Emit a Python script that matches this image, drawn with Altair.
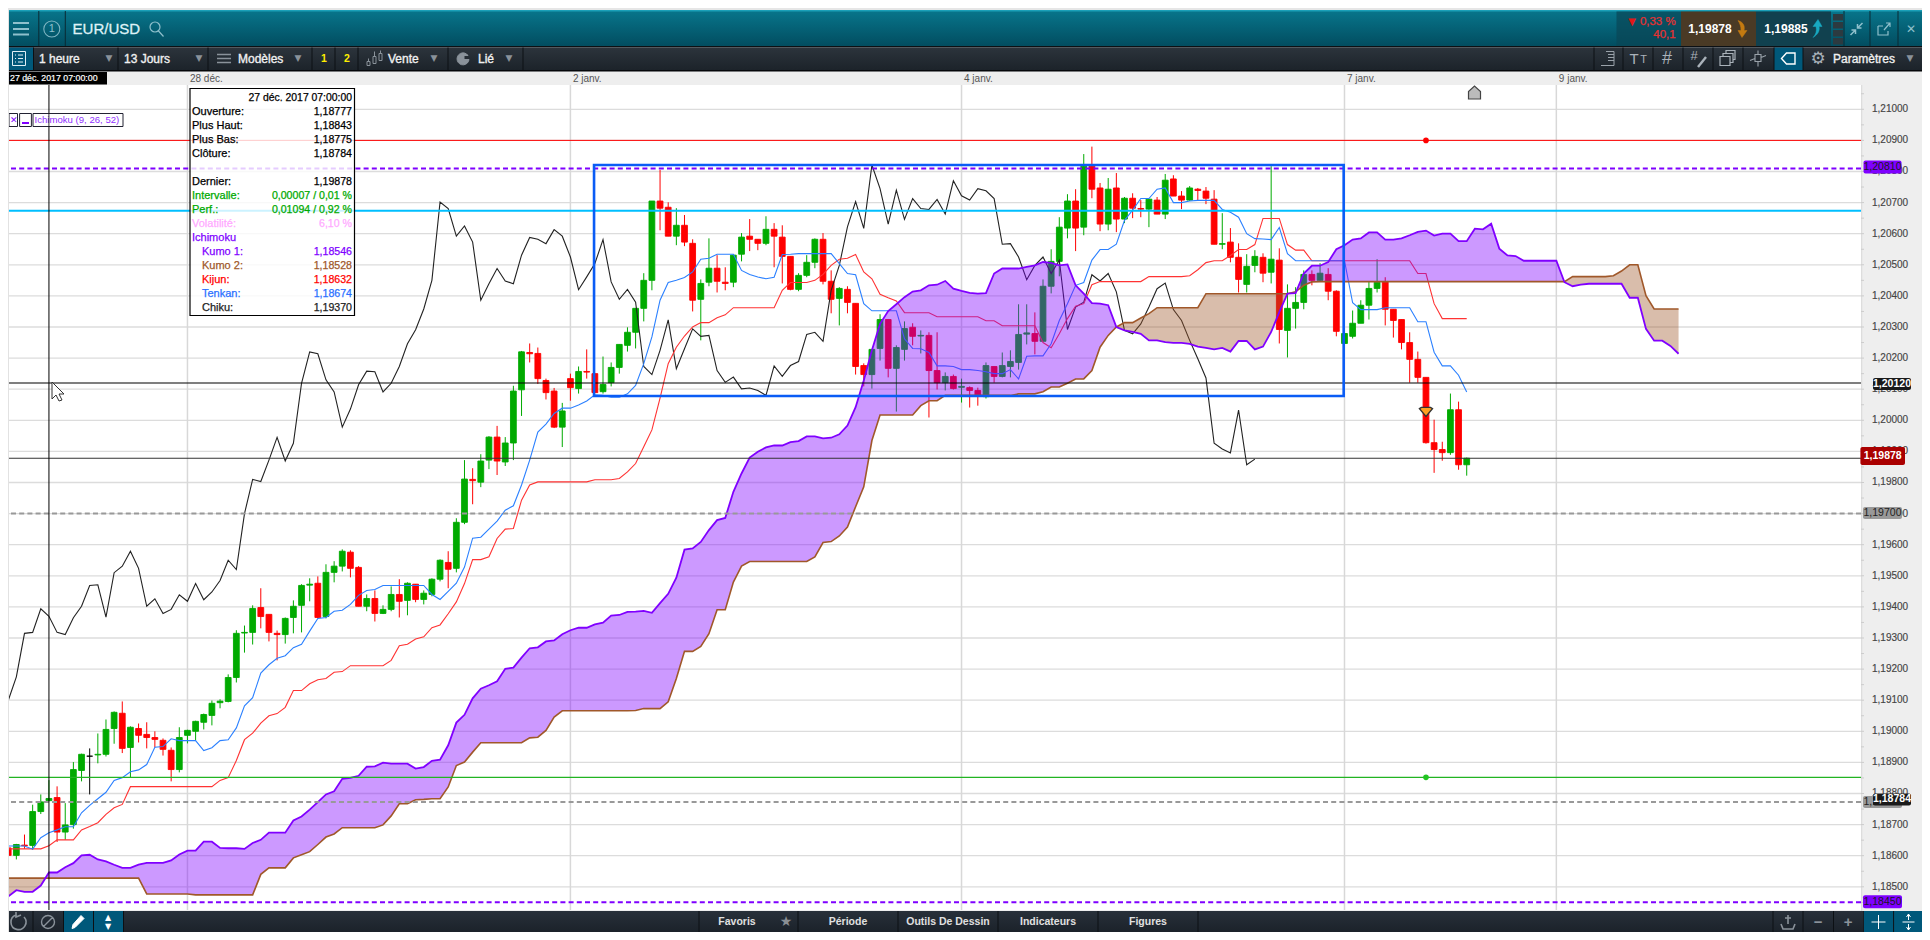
import altair as alt
import pandas as pd

# ---- prices are stored in units of 0.00001 ----
opens = [118625,118601,118634,118633,118742,118777,118787,118676,118700,118874,
118920,118924,118926,119009,119058,118948,119009,118990,118980,118971,
118939,118877,118987,119000,119029,119051,119092,119096,119173,119316,
119318,119398,119376,119315,119311,119366,119405,119470,119476,119369,
119511,119531,119576,119527,119402,119427,119379,119392,119440,119421,
119473,119424,119440,119489,119543,119524,119672,119810,119801,119872,
119946,119866,119927,120098,120218,120215,120128,120094,119978,120134,
120102,120157,120150,120092,120121,120170,120241,120283,120360,120450,
120705,120685,120592,120627,120569,120389,120444,120489,120444,120444,
120534,120592,120582,120569,120614,120589,120527,120421,120466,120508,
120582,120447,120392,120421,120376,120176,120147,120231,120324,120167,
120228,120299,120271,120273,120160,120121,120141,120106,120105,120096,
120076,120173,120141,120173,120186,120277,120279,120254,120431,120511,
120618,120705,120621,120817,120747,120631,120747,120647,120714,120681,
120679,120708,120663,120776,120721,120708,120743,120737,120711,120566,
120573,120524,120437,120498,120524,120476,120515,120289,120360,120379,
120469,120450,120469,120415,120247,120270,120312,120370,120424,120446,
120357,120324,120250,120196,120138,119928,119906,119896,120034,119857]
closes = [118601,118636,118632,118742,118773,118784,118676,118699,118877,118926,
118920,118926,119006,119061,118945,119013,118987,118980,118974,118942,
118877,118980,119003,119032,119054,119090,119097,119173,119315,119318,
119395,119369,119318,119311,119363,119402,119469,119473,119366,119511,
119531,119579,119524,119402,119427,119379,119392,119440,119418,119476,
119424,119444,119489,119550,119521,119672,119811,119806,119869,119946,
119869,119927,120094,120220,120214,120134,120089,119978,120030,120105,
120157,120155,120089,120115,120170,120244,120283,120360,120450,120705,
120682,120592,120627,120573,120386,120440,120489,120447,120440,120531,
120589,120582,120569,120614,120592,120527,120421,120466,120508,120582,
120447,120389,120424,120379,120173,120147,120228,120324,120167,120234,
120295,120270,120273,120160,120121,120141,120102,120109,120096,120080,
120176,120141,120176,120189,120276,120281,120254,120431,120511,120621,
120705,120618,120817,120743,120631,120743,120647,120714,120682,120679,
120711,120663,120772,120721,120708,120747,120739,120714,120566,120568,
120524,120453,120495,120527,120473,120518,120292,120360,120379,120469,
120450,120473,120415,120286,120279,120312,120370,120424,120444,120357,
120321,120250,120196,120138,119928,119906,119896,120034,119857,119878]
highs = [118625,118638,118668,118764,118797,118843,118823,118769,118901,118928,
118945,118993,119038,119064,119096,119016,119025,119029,119000,118977,
118948,119013,119005,119034,119057,119099,119103,119183,119325,119340,
119405,119460,119376,119324,119366,119421,119473,119492,119498,119537,
119547,119585,119582,119531,119440,119453,119405,119466,119489,119479,
119473,119453,119492,119553,119579,119685,119872,119846,119891,119949,
119982,119946,120111,120223,120247,120234,120134,120104,120056,120150,
120173,120228,120150,120205,120186,120244,120299,120360,120473,120705,
120805,120701,120682,120660,120582,120453,120585,120531,120492,120534,
120602,120647,120582,120656,120634,120627,120527,120473,120531,120585,
120602,120482,120428,120431,120376,120183,120228,120341,120324,120241,
120318,120312,120289,120283,120283,120154,120147,120134,120109,120105,
120186,120173,120218,120225,120373,120373,120347,120453,120550,120653,
120727,120743,120856,120880,120763,120779,120795,120718,120730,120708,
120711,120718,120792,120788,120737,120753,120747,120750,120740,120666,
120618,120569,120534,120547,120537,120817,120553,120437,120428,120482,
120482,120505,120489,120418,120279,120353,120386,120447,120518,120460,
120357,120324,120283,120221,120138,120002,119931,120086,120060,119880]
lows = [118601,118588,118622,118619,118734,118775,118644,118651,118687,118839,
118797,118897,118919,118960,118930,118850,118964,118945,118948,118922,
118839,118868,118961,118971,119006,119019,119074,119093,119157,119253,
119279,119331,119289,119228,119282,119315,119318,119418,119363,119363,
119479,119514,119495,119402,119386,119353,119377,119386,119366,119373,
119415,119408,119434,119482,119460,119511,119666,119730,119785,119843,
119824,119853,119872,120014,120186,120117,120067,119975,119914,120063,
120086,120134,120089,120086,120109,120150,120221,120231,120318,120418,
120611,120592,120563,120560,120350,120257,120431,120411,120418,120428,
120511,120544,120547,120563,120492,120440,120418,120415,120460,120489,
120437,120344,120305,120344,120147,120109,120102,120192,120138,120028,
120192,120241,120215,120009,120099,120096,120099,120057,120041,120047,
120070,120121,120138,120138,120163,120244,120212,120254,120408,120463,
120585,120544,120595,120714,120608,120611,120605,120634,120650,120653,
120621,120663,120647,120721,120679,120705,120705,120695,120566,120550,
120508,120411,120411,120476,120444,120440,120247,120202,120295,120357,
120434,120447,120386,120270,120247,120263,120312,120324,120411,120305,
120266,120228,120121,120121,119925,119831,119870,119889,119841,119822]
tenkan = [118631,118631,118631,118621,118658,118674,118683,118693,118693,118738,
118762,118783,118804,118842,118851,118870,118876,118893,118949,118951,
118976,118970,118970,118970,118938,118947,118970,118973,119011,119082,
119108,119187,119214,119235,119243,119269,119280,119322,119363,119366,
119386,119389,119408,119437,119453,119456,119469,119469,119469,119469,
119469,119469,119440,119424,119450,119476,119528,119621,119624,119650,
119676,119711,119725,119792,119872,119962,119988,120022,120039,120039,
120049,120062,120082,120080,120074,120074,120085,120112,120182,120268,
120386,120443,120450,120459,120477,120518,120521,120534,120534,120534,
120482,120469,120461,120455,120460,120533,120534,120536,120536,120536,
120536,120536,120504,120472,120468,120375,120352,120352,120352,120352,
120262,120231,120230,120218,120175,120175,120173,120163,120163,120160,
120156,120150,120150,120163,120133,120206,120207,120207,120246,120321,
120375,120434,120443,120515,120549,120549,120566,120643,120676,120713,
120713,120743,120747,120700,120700,120705,120707,120707,120707,120678,
120669,120653,120600,120584,120583,120581,120620,120536,120513,120513,
120513,120513,120513,120513,120513,120378,120356,120356,120356,120362,
120362,120362,120362,120317,120317,120219,120175,120175,120145,120091]
kijun = [118622,118622,118622,118622,118622,118632,118651,118651,118651,118683,
118694,118706,118733,118754,118765,118822,118822,118822,118822,118822,
118822,118822,118822,118822,118822,118822,118842,118851,118906,118973,
118994,119026,119050,119057,119077,119131,119131,119153,119166,119170,
119190,119192,119211,119211,119211,119211,119211,119228,119275,119280,
119297,119304,119333,119342,119378,119416,119475,119552,119552,119561,
119620,119650,119652,119743,119792,119802,119802,119802,119802,119802,
119802,119802,119809,119809,119809,119813,119834,119861,119915,119969,
120071,120182,120235,120271,120300,120314,120314,120330,120339,120362,
120362,120362,120362,120362,120362,120418,120443,120443,120443,120450,
120469,120498,120518,120521,120533,120477,120455,120405,120394,120384,
120346,120346,120346,120346,120333,120333,120333,120333,120333,120333,
120320,120320,120304,120304,120304,120304,120304,120250,120233,120278,
120327,120367,120375,120436,120446,120446,120446,120446,120446,120446,
120462,120462,120462,120462,120462,120465,120484,120507,120513,120513,
120530,120549,120549,120565,120649,120649,120649,120565,120547,120547,
120513,120513,120513,120513,120513,120513,120513,120513,120513,120513,
120513,120513,120513,120472,120472,120375,120327,120327,120327,120327]
chikou = [119099,119175,119315,119318,119394,119370,119318,119311,119365,119402,
119469,119471,119367,119510,119531,119579,119524,119402,119426,119379,
119392,119439,119418,119475,119423,119448,119485,119550,119520,119700,
119810,119803,119872,119945,119869,119926,120119,120220,120214,120130,
120091,119978,120036,120114,120158,120156,120091,120119,120173,120246,
120291,120358,120450,120702,120681,120592,120625,120573,120386,120439,
120488,120448,120439,120531,120588,120582,120568,120613,120592,120525,
120420,120461,120504,120581,120445,120389,120421,120380,120173,120147,
120225,120323,120166,120230,120294,120270,120273,120160,120122,120139,
120101,120104,120096,120080,120175,120141,120176,120189,120276,120283,
120254,120418,120498,120622,120703,120617,120821,120745,120631,120740,
120646,120713,120681,120678,120710,120663,120770,120722,120708,120745,
120738,120713,120566,120568,120525,120452,120498,120525,120472,120515,
120292,120364,120380,120468,120448,120472,120413,120289,120278,120310,
120364,120423,120441,120356,120321,120257,120198,120136,119926,119908,
119895,120033,119857,119875]
kumo1 = [118469,118489,118484,118484,118504,118546,118546,118563,118576,118601,
118603,118588,118582,118571,118561,118561,118571,118577,118577,118577,
118585,118604,118616,118616,118645,118645,118625,118624,118624,118622,
118641,118651,118674,118674,118674,118713,118726,118748,118772,118797,
118807,118847,118850,118857,118886,118887,118899,118896,118896,118896,
118880,118885,118905,118909,118955,119028,119053,119106,119137,119148,
119161,119201,119205,119237,119267,119270,119289,119292,119312,119325,
119333,119333,119344,119349,119372,119374,119384,119385,119387,119381,
119412,119442,119494,119584,119588,119609,119647,119679,119686,119770,
119829,119880,119899,119913,119919,119919,119930,119933,119948,119948,
119942,119944,119955,119983,120042,120128,120225,120310,120351,120373,
120396,120414,120418,120434,120436,120448,120423,120416,120410,120407,
120409,120472,120488,120488,120488,120493,120498,120509,120506,120498,
120501,120434,120407,120377,120375,120370,120300,120289,120284,120278,
120257,120257,120251,120249,120249,120246,120237,120233,120228,120233,
120221,120255,120255,120228,120237,120284,120348,120407,120409,120472,
120497,120497,120509,120550,120563,120581,120585,120604,120604,120581,
120581,120585,120595,120606,120610,120594,120600,120600,120576,120576,
120616,120614,120632,120552,120530,120528,120513,120513,120513,120513,
120513,120444,120431,120436,120439,120439,120439,120439,120439,120394,
120394,120294,120256,120256,120239,120214]
kumo2 = [118528,118528,118528,118528,118528,118528,118528,118528,118528,118528,
118528,118528,118528,118528,118528,118528,118528,118477,118477,118477,
118477,118477,118477,118474,118474,118474,118474,118474,118474,118474,
118474,118540,118561,118561,118561,118593,118603,118613,118636,118660,
118670,118690,118690,118690,118690,118690,118699,118728,118767,118767,
118780,118781,118783,118783,118821,118890,118901,118933,118963,118963,
118963,118963,118963,118963,118979,118981,119003,119046,119066,119066,
119066,119066,119066,119066,119066,119066,119066,119067,119073,119073,
119073,119095,119170,119257,119257,119273,119314,119391,119391,119480,
119531,119546,119546,119546,119546,119546,119546,119546,119546,119561,
119607,119610,119628,119657,119722,119786,119935,120017,120017,120017,
120017,120017,120047,120063,120063,120080,120080,120080,120080,120080,
120080,120080,120080,120080,120085,120085,120085,120092,120107,120107,
120119,120133,120133,120160,120235,120273,120300,120314,120314,120329,
120343,120362,120362,120362,120362,120362,120362,120407,120407,120407,
120407,120407,120407,120407,120407,120407,120407,120407,120413,120434,
120445,120446,120446,120446,120446,120446,120446,120446,120446,120446,
120446,120446,120446,120446,120446,120446,120446,120446,120446,120446,
120446,120446,120446,120446,120446,120446,120446,120446,120446,120446,
120446,120446,120462,120462,120462,120462,120462,120465,120480,120500,
120500,120401,120358,120358,120358,120358]

y_grid = [1.185,1.186,1.187,1.188,1.189,1.190,1.191,1.192,1.193,1.194,1.195,1.196,1.197,
          1.198,1.199,1.200,1.201,1.202,1.203,1.204,1.205,1.206,1.207,1.208,1.209,1.210]
y_labels = ["1,18500","1,18600","1,18700","1,18800","1,18900","1,19000","1,19100","1,19200","1,19300",
            "1,19400","1,19500","1,19600","1,19700","1,19800","1,19900","1,20000","1,20100","1,20200",
            "1,20300","1,20400","1,20500","1,20600","1,20700","1,20800","1,20900","1,21000"]
y_minor = [round(1.1845 + k * 0.001, 4) for k in range(27)]
x_ticks = [22, 69, 117, 164, 190]
x_labels = ["28 déc.", "2 janv.", "4 janv.", "7 janv.", "9 janv."]
box_x = [71.9, 163.9]
box_y = [1.20821, 1.20078]
cross_idx = 5
alert_idx = 174

FONT = "Liberation Sans"
PLOT_L, PLOT_T, PLOT_W, PLOT_H = 9, 85, 1852, 825
xs = alt.Scale(domain=[0.098, 227.39], nice=False, zero=False, padding=0)
ys = alt.Scale(domain=[1.184254, 1.210781], nice=False, zero=False, padding=0)
U = 1e5

def X(p): return p - PLOT_L
def Y(p): return p - PLOT_T

def qx(f, **k): return alt.X(f, scale=xs, axis=None, title=None, **k)
def qy(f, **k): return alt.Y(f, scale=ys, axis=None, title=None, **k)

def rect(x0, y0, x1, y1, color, **k):
    return alt.Chart().mark_rect(color=color, **k).encode(
        x=alt.value(X(x0)), x2=alt.value(X(x1)), y=alt.value(Y(y0)), y2=alt.value(Y(y1)))

def txt(s, x, y, size=11, color="#000", align="left", weight="normal", font=FONT, heavy=0):
    kw = {"stroke": color, "strokeWidth": heavy} if heavy else {}
    return alt.Chart().mark_text(text=s, align=align, baseline="middle", fontSize=size,
                                 color=color, fontWeight=weight, font=font, **kw).encode(
        x=alt.value(X(x)), y=alt.value(Y(y)))

def icon(path, x, y, fill="transparent", stroke="#9aa", sw=1.2):
    return alt.Chart().mark_point(shape=path, size=4, fill=fill, stroke=stroke, strokeWidth=sw,
                                  opacity=1, filled=False).encode(
        x=alt.value(X(x)), y=alt.value(Y(y)))

def grad(c0, c1):
    return {"gradient": "linear", "x1": 0, "x2": 0, "y1": 0, "y2": 1,
            "stops": [{"offset": 0, "color": c0}, {"offset": 1, "color": c1}]}

# ---- tables ----
n = len(opens)
direction = ["up" if c > o else ("down" if c < o else "flat") for o, c in zip(opens, closes)]
candles = pd.DataFrame({"i": range(n), "o": [v / U for v in opens], "c": [v / U for v in closes],
                        "h": [v / U for v in highs], "l": [v / U for v in lows], "d": direction})
lines_df = pd.DataFrame({"i": range(n), "tenkan": [v / U for v in tenkan], "kijun": [v / U for v in kijun]})
chikou_df = pd.DataFrame({"i": range(len(chikou)), "chikou": [v / U for v in chikou]})
kumo_df = pd.DataFrame({"i": range(len(kumo1)), "k1": [v / U for v in kumo1], "k2": [v / U for v in kumo2]})

# cloud split into coloured pieces where the two spans cross
rows, seg = [], 0
for j in range(len(kumo1)):
    a, b = kumo1[j], kumo2[j]
    kind = "bull" if a >= b else "bear"
    if j:
        pa, pb = kumo1[j - 1], kumo2[j - 1]
        pkind = "bull" if pa >= pb else "bear"
        if kind != pkind:
            t = (pb - pa) / ((a - pa) - (b - pb))
            v = (pa + t * (a - pa)) / U
            rows.append({"i": j - 1 + t, "k1": v, "k2": v, "kind": pkind, "seg": seg})
            seg += 1
            rows.append({"i": j - 1 + t, "k1": v, "k2": v, "kind": kind, "seg": seg})
    rows.append({"i": j, "k1": a / U, "k2": b / U, "kind": kind, "seg": seg})
cloud = pd.DataFrame(rows)

cscale = alt.Scale(domain=["up", "down", "flat"], range=["#00aa00", "#ff0000", "#000000"])
layers = []

# ---- grid ----
ygrid_df = pd.DataFrame({"v": y_grid, "lab": y_labels})
xgrid_df = pd.DataFrame({"v": x_ticks, "lab": x_labels})
layers.append(alt.Chart(ygrid_df).mark_rule(color="#dcdcdc", strokeWidth=1.3).encode(y=qy("v:Q")))
layers.append(alt.Chart(xgrid_df).mark_rule(color="#d8d8d8", strokeWidth=1.5).encode(x=qx("v:Q")))

# ---- candles ----
layers.append(alt.Chart(candles).mark_rule(strokeWidth=1, clip=True).encode(
    x=qx("i:Q"), y=qy("h:Q"), y2="l:Q", color=alt.Color("d:N", scale=cscale, legend=None)))
layers.append(alt.Chart(candles).mark_bar(width=5.8, orient="vertical", strokeWidth=0.9, clip=True).encode(
    x=qx("i:Q"), y=qy("o:Q"), y2="c:Q", color=alt.Color("d:N", scale=cscale, legend=None),
    stroke=alt.Stroke("d:N", scale=cscale, legend=None)))

# ---- ichimoku lines ----
layers.append(alt.Chart(chikou_df).mark_line(color="#222222", strokeWidth=1.1, clip=True).encode(x=qx("i:Q"), y=qy("chikou:Q")))
layers.append(alt.Chart(lines_df).mark_line(color="#ff3333", strokeWidth=1.1, clip=True).encode(x=qx("i:Q"), y=qy("kijun:Q")))
layers.append(alt.Chart(lines_df).mark_line(color="#2b80ff", strokeWidth=1.1, clip=True).encode(x=qx("i:Q"), y=qy("tenkan:Q")))

# ---- cloud ----
for kind, col in [("bull", "#8000ff"), ("bear", "#a05a2c")]:
    layers.append(alt.Chart(cloud[cloud["kind"] == kind]).mark_area(color=col, opacity=0.4, clip=True).encode(
        x=qx("i:Q"), y=qy("k1:Q"), y2="k2:Q", detail="seg:N"))
layers.append(alt.Chart(kumo_df).mark_line(color="#a0582a", strokeWidth=1.6, clip=True).encode(x=qx("i:Q"), y=qy("k2:Q")))
layers.append(alt.Chart(kumo_df).mark_line(color="#8000ff", strokeWidth=1.8, clip=True).encode(x=qx("i:Q"), y=qy("k1:Q")))

# ---- horizontal levels ----
def level(p, color, sw=1.0, dash=None):
    kw = {"strokeDash": dash} if dash else {}
    return alt.Chart(pd.DataFrame({"p": [p]})).mark_rule(color=color, strokeWidth=sw, **kw).encode(y=qy("p:Q"))

layers += [level(1.2090, "#ff0000"), level(1.2081, "#7f00ff", 2, [5, 3.2]), level(1.20674, "#00bfff", 2),
           level(1.2012, "#000000", 1.1), level(1.19878, "#333333", 1.1),
           level(1.1970, "#999999", 2, [5, 3.2]), level(1.18852, "#22b422", 1.1),
           level(1.18773, "#999999", 2, [5, 3.2]), level(1.1845, "#7f00ff", 2, [5, 3.2])]

# ---- drawn rectangle ----
layers.append(alt.Chart(pd.DataFrame({"x0": [box_x[0]], "x1": [box_x[1]], "y0": [box_y[0]], "y1": [box_y[1]]}))
              .mark_rect(fill="transparent", stroke="#0a5cf5", strokeWidth=2.6)
              .encode(x=qx("x0:Q"), x2="x1:Q", y=qy("y0:Q"), y2="y1:Q"))

# ---- alert dots, alert triangle, crosshair ----
dots = pd.DataFrame({"i": [alert_idx], "p": [1.2090]})
layers.append(alt.Chart(dots).mark_circle(size=32, color="#ff0000", opacity=1).encode(x=qx("i:Q"), y=qy("p:Q")))
dots2 = pd.DataFrame({"i": [alert_idx], "p": [1.18852]})
layers.append(alt.Chart(dots2).mark_circle(size=32, color="#22c422", opacity=1).encode(x=qx("i:Q"), y=qy("p:Q")))
tri = pd.DataFrame({"i": [alert_idx], "p": [1.20027]})
layers.append(alt.Chart(tri).mark_point(shape="M-1,-0.5 L-0.7,-0.7 L0.7,-0.7 L1,-0.5 L0,0.7 Z", size=170,
                                        fill="#ffa020", stroke="#333333", strokeWidth=1.4, opacity=1, filled=False)
              .encode(x=qx("i:Q"), y=qy("p:Q")))
layers.append(alt.Chart(pd.DataFrame({"i": [cross_idx]})).mark_rule(color="#000000", strokeWidth=1).encode(x=qx("i:Q")))
layers.append(icon("M0,-9 L0,8 L4,4 L7,10 L10,9 L7,3 L12,3 Z", 52, 391, fill="#ffffff", stroke="#333333", sw=1))
layers.append(icon("M-6,6.5 L-6,-1 L0,-6.5 L6,-1 L6,6.5 Z", 1474.5, 92.5, fill="#bbbbbb", stroke="#444444", sw=1.2))

# ---- info panel ----
layers.append(rect(190, 88.5, 354.5, 315.5, "#ffffff", opacity=0.8))
layers.append(alt.Chart().mark_rect(fill="transparent", stroke="#000000", strokeWidth=1.2).encode(
    x=alt.value(X(190)), x2=alt.value(X(354.5)), y=alt.value(Y(88.5)), y2=alt.value(Y(315.5))))
info = [("", "27 déc. 2017 07:00:00", 98, "#000", 192), ("Ouverture:", "1,18777", 112, "#000", 192),
        ("Plus Haut:", "1,18843", 126, "#000", 192), ("Plus Bas:", "1,18775", 140, "#000", 192),
        ("Clôture:", "1,18784", 154, "#000", 192), ("Dernier:", "1,19878", 182, "#000", 192),
        ("Intervalle:", "0,00007 / 0,01 %", 196, "#00aa00", 192), ("Perf.:", "0,01094 / 0,92 %", 210, "#00aa00", 192),
        ("Volatilité:", "6,10 %", 224, "#ffaaff", 192), ("Ichimoku", "", 238, "#8000ff", 192),
        ("Kumo 1:", "1,18546", 252, "#8000ff", 202), ("Kumo 2:", "1,18528", 266, "#a0582a", 202),
        ("Kijun:", "1,18632", 280, "#ff0000", 202), ("Tenkan:", "1,18674", 294, "#2b70ff", 202),
        ("Chiku:", "1,19370", 308, "#222222", 202)]
for lab, val, y, col, xl in info:
    if lab:
        layers.append(txt(lab, xl, y, 11, col, heavy=0.25))
    if val:
        layers.append(txt(val, 352, y, 10.6 if lab else 10.4, col, align="right", heavy=0.25))

# Ichimoku tag
for a, b in [(9, 17.5), (19.6, 31.4), (33, 123)]:
    layers.append(alt.Chart().mark_rect(fill="#ffffff", stroke="#223", strokeWidth=1).encode(
        x=alt.value(X(a)), x2=alt.value(X(b)), y=alt.value(Y(113.5)), y2=alt.value(Y(126.5))))
layers.append(txt("✕", 10, 120, 9, "#8000ff", weight="bold", font="DejaVu Sans"))
layers.append(rect(22, 122, 29, 124, "#8000ff"))
layers.append(txt("Ichimoku (9, 26, 52)", 34.5, 120, 9.6, "#9030ff"))
layers.append(rect(48.4, 113.5, 49.4, 126.5, "#000000", opacity=0.8))

# ---- chrome: frame ----
layers.append(rect(8, 8, 1922, 10, "#e6e6e6"))
layers.append(rect(8, 10, 9, 932, "#e2e2e2"))
layers.append(rect(1861, 85, 1862.3, 911, "#dddddd"))
layers.append(rect(9, 10, 1922, 46, "#000000", fill=grad("#08768c", "#024d60")))
layers.append(rect(9, 10, 1922, 11.5, "#1ba0b8"))
layers.append(rect(9, 46, 1922, 47.5, "#0c1014"))
layers.append(rect(9, 47.5, 1922, 70, "#000000", fill=grad("#2c343c", "#1c232a")))
layers.append(rect(9, 70, 1922, 71.5, "#05070a"))
layers.append(rect(9, 911, 1922, 932, "#000000", fill=grad("#28303a", "#1b222a")))

# ---- axis labels and ticks, through the scales ----
layers.append(alt.Chart(pd.DataFrame({"v": y_minor})).mark_rule(color="#cccccc", strokeWidth=1).encode(
    x=alt.value(X(1861)), x2=alt.value(X(1864)), y=qy("v:Q")))
layers.append(alt.Chart(ygrid_df).mark_rule(color="#cccccc", strokeWidth=1).encode(
    x=alt.value(X(1861)), x2=alt.value(X(1864)), y=qy("v:Q")))
layers.append(alt.Chart(ygrid_df).mark_text(font=FONT, fontSize=10, color="#444444", align="left", baseline="middle",
                                            stroke="#444444", strokeWidth=0.15).encode(
    x=alt.value(X(1872)), y=qy("v:Q"), text="lab:N"))
layers.append(alt.Chart(xgrid_df).mark_text(font=FONT, fontSize=10, color="#555555", align="left", baseline="middle",
                                            dx=2.5).encode(
    x=qx("v:Q"), y=alt.value(Y(78.5)), text="lab:N"))

# x-axis crosshair tag
layers.append(rect(9, 72, 107, 84.5, "#000000"))
layers.append(txt("27 déc. 2017 07:00:00", 10, 78, 8.8, "#ffffff", heavy=0.2))

# ---- top bar ----
for y in (23, 29, 34.5):
    layers.append(rect(13, y - 1, 29, y + 1, "#8fc0cc"))
for x in (38.8, 65.3):
    layers.append(rect(x - 0.5, 11, x + 0.5, 46, "#0a2a34"))
layers.append(icon("M8,0 A8,8 0 1,1 -8,0 A8,8 0 1,1 8,0 Z", 51.8, 29, stroke="#7fb5c2", sw=1.1))
layers.append(txt("1", 51.8, 29, 11, "#8fc0cc", align="center"))
layers.append(txt("EUR/USD", 72.6, 29, 15, "#dff2f6", heavy=0.3))
layers.append(icon("M-6,-2 A5,5 0 1,1 4,-2 A5,5 0 1,1 -6,-2 Z M2.5,2 L7.5,7.5", 156, 29, stroke="#8fc0cc", sw=1.2))

layers.append(rect(1616.5, 11.5, 1681, 46, "#0a4656", opacity=0.7))
layers.append(txt("▼", 1632, 22, 10, "#e01818", align="center", font="DejaVu Sans"))
layers.append(txt("0,33 %", 1675.7, 22, 11.5, "#e83030", align="right", heavy=0.25))
layers.append(txt("40,1", 1675.7, 35, 11.5, "#e83030", align="right", heavy=0.25))
layers.append(rect(1681, 11.5, 1756, 46, "#4a3a25"))
layers.append(txt("1,19878", 1710, 29, 12, "#ffffff", align="center", weight="bold"))
layers.append(icon("M-3,-8 C3,-6 4,-2 3,2 L6,2 L1,9 L-3,2 L0,2 C0,-2 -1,-5 -3,-8 Z", 1741, 28.5, fill="#c47a10", stroke="#c47a10", sw=0.5))
layers.append(rect(1756, 11.5, 1831, 46, "#11414f"))
layers.append(txt("1,19885", 1786, 29, 12, "#ffffff", align="center", weight="bold"))
layers.append(icon("M-3,9 C0,6 1,2 0,-2 L-3,-2 L2,-9 L6,-2 L3,-2 C4,2 2,6 -3,9 Z", 1816, 28.5, fill="#18a8c0", stroke="#18a8c0", sw=0.5))
for y in (13, 21, 29, 37):
    layers.append(rect(1833, y + 1, 1843, y + 7.5, "#2c3a40"))
for x in (1844, 1870, 1898):
    layers.append(rect(x - 0.5, 11, x + 0.5, 46, "#0a2a34"))
layers.append(icon("M1,-1 L6,-6 M1,-5 L1,-1 L5,-1 M-1,1 L-6,6 M-1,5 L-1,1 L-5,1", 1856.5, 29, stroke="#8fc0cc", sw=1.5))
layers.append(icon("M-6,-3 L-1,-3 M-6,-3 L-6,6 L4,6 L4,2 M0,1 L6,-6 M2,-6 L6,-6 L6,-2", 1884, 29, stroke="#8fc0cc", sw=1.2))
layers.append(txt("✕", 1911, 29, 12, "#8fc0cc", align="center", font="DejaVu Sans"))

# ---- second bar, left ----
layers.append(rect(9, 47.5, 33.5, 70, "#00587a"))
layers.append(icon("M-6.5,-7 L6.5,-7 L6.5,7 L-6.5,7 Z M-4,-3.5 L-3,-3.5 M-1,-3.5 L4,-3.5 M-4,0 L-3,0 M-1,0 L4,0 M-4,3.5 L-3,3.5 M-1,3.5 L4,3.5",
                   19, 58.5, stroke="#dfeff5", sw=1))
for x in (33.5, 118, 208, 312, 335, 358, 448, 523):
    layers.append(rect(x - 0.5, 47.5, x + 0.5, 70, "#0c1014"))
for s, x in [("1 heure", 39), ("13 Jours", 124), ("Modèles", 238), ("Vente", 388), ("Lié", 478)]:
    layers.append(txt(s, x, 58.5, 12, "#f0f0f0", heavy=0.35))
for x in (109, 199, 298, 434, 509):
    layers.append(txt("▼", x, 58, 9, "#8a929a", align="center", font="DejaVu Sans"))
layers.append(txt("1", 324, 58.5, 10.5, "#ffee00", align="center", weight="bold"))
layers.append(txt("2", 347, 58.5, 10.5, "#ffee00", align="center", weight="bold"))
layers.append(icon("M-7,-4 L7,-4 M-7,0 L7,0 M-7,4 L7,4", 224, 58.5, stroke="#8a929a", sw=1.4))
layers.append(icon("M-7,3 L-7,7 L-4,7 L-4,3 Z M-1,-2 L-1,5 L2,5 L2,-2 Z M5,-5 L5,2 L8,2 L8,-5 Z M-5.5,3 L-5.5,0 M0.5,-2 L0.5,-7 M6.5,-5 L6.5,-8",
                   374, 58.5, stroke="#8a929a", sw=1))
layers.append(icon("M5,-3 A6,6 0 1,0 6,1 L1,1 L1,-3 Z", 463, 58.5, fill="#8a929a", stroke="#8a929a", sw=1))

# ---- second bar, right ----
layers.append(rect(1774, 47.5, 1803, 70, "#00587a"))
for x in (1594, 1623, 1653, 1683, 1713, 1743, 1774, 1803):
    layers.append(rect(x - 0.5, 47.5, x + 0.5, 70, "#0c1014"))
layers.append(icon("M-2,-7 L6,-7 M0,-4 L6,-4 M0,-1 L6,-1 M0,2 L6,2 M-7,7 L6,7 M6,-7 L6,7", 1608, 58.5, stroke="#9aa2aa", sw=1))
layers.append(txt("T", 1634, 58.5, 15, "#aab2ba", align="center"))
layers.append(txt("T", 1643.5, 60, 11, "#aab2ba", align="center"))
layers.append(txt("#", 1667, 58.5, 18, "#aab2ba", align="center"))
layers.append(txt("#", 1694, 56, 13, "#aab2ba", align="center"))
layers.append(icon("M-2,7 L6,-3", 1700, 60, stroke="#aab2ba", sw=2.4))
layers.append(icon("M-7,-2 L3,-2 L3,7 L-7,7 Z M-4,-2 L-4,-5 L6,-5 L6,4 L3,4 M-1,-5 L-1,-8 L8,-8 L8,1 L6,1", 1727, 58.5, stroke="#aab2ba", sw=1.2))
layers.append(icon("M-3,-4 L3,-4 L3,3 L-3,3 Z M0,-8 L0,-4 M0,3 L0,8 M-8,2 L-3,0 M3,-1 L8,-3", 1758, 58.5, stroke="#9aa2aa", sw=1.1))
layers.append(icon("M-7,0 L-2,-5.5 L6.5,-5.5 L6.5,5.5 L-2,5.5 Z", 1788.5, 58.5, stroke="#ffffff", sw=1.4))
layers.append(txt("⚙", 1818, 58.5, 17, "#aab2ba", align="center", font="DejaVu Sans"))
layers.append(txt("Paramètres", 1833, 58.5, 12, "#f0f0f0", heavy=0.35))
layers.append(txt("▼", 1910, 58, 9, "#8a929a", align="center", font="DejaVu Sans"))

# ---- bottom bar ----
layers.append(rect(64, 911, 93, 932, "#00587a"))
layers.append(rect(94, 911, 123, 932, "#00587a"))
for x in (33, 63.5, 93.5, 123.5, 699, 798, 898, 998, 1098, 1198, 1773, 1803, 1833.5, 1864, 1893.6):
    layers.append(rect(x - 0.5, 911, x + 0.5, 932, "#0c1014"))
layers.append(rect(1864, 911, 1893.1, 932, "#00587a"))
layers.append(rect(1894.1, 911, 1922, 932, "#00587a"))
layers.append(icon("M6,-5 A7.5,7.5 0 1,1 -2,-7 M-2,-10 L-2,-5 L3,-7", 18, 922, stroke="#8a929a", sw=1.6))
layers.append(icon("M6.5,0 A6.5,6.5 0 1,1 -6.5,0 A6.5,6.5 0 1,1 6.5,0 Z M-4.5,4.5 L4.5,-4.5", 48, 922, stroke="#8a929a", sw=1.4))
layers.append(icon("M-6,7 L-5,3 L3,-6 L6,-3 L-3,6 Z", 78, 921.5, fill="#ffffff", stroke="#ffffff", sw=1))
layers.append(txt("▲", 108, 917.5, 8, "#ffffff", align="center", font="DejaVu Sans"))
layers.append(txt("▼", 108, 926.5, 8, "#ffffff", align="center", font="DejaVu Sans"))
for s, x in [("Favoris", 737), ("Période", 848), ("Outils De Dessin", 948), ("Indicateurs", 1048), ("Figures", 1148)]:
    layers.append(txt(s, x, 921.5, 10.5, "#e0e0e0", align="center", weight="bold"))
layers.append(txt("★", 786, 921.5, 14, "#8a8f94", align="center", font="DejaVu Sans"))
layers.append(icon("M0,-7 L0,2 M-3,-4 L3,-4 M-7,2 L-5,7 L5,7 L7,2", 1788, 922, stroke="#8a929a", sw=1.6))
layers.append(txt("−", 1818, 921.5, 15, "#8a929a", align="center", weight="bold"))
layers.append(txt("+", 1848, 921.5, 15, "#8a929a", align="center", weight="bold"))
layers.append(icon("M-7,0 L7,0 M0,-7 L0,7", 1878.5, 922, stroke="#ffffff", sw=1))
layers.append(icon("M-6,0 L6,0 M0,-8 L0,-2 M-2,-5 L0,-8 L2,-5 M0,8 L0,2 M-2,5 L0,8 L2,5", 1908.5, 922, stroke="#ffffff", sw=1))

# ---- price tags ----
tags = [(1.2081, "1,20810", "#7f00ff", "#1a1a1a", 1863.5, 1901.5, 13, -1.5, "normal"),
        (1.1970, "1,19700", "#999999", "#222222", 1863, 1902, 12, -0.5, "normal"),
        (1.18773, "1,18773", "#999999", "#222222", 1863, 1902, 12, 0, "normal"),
        (1.1845, "1,18450", "#7f00ff", "#1a1a1a", 1863, 1902, 13, -0.5, "normal"),
        (1.2012, "1,20120", "#1a1a1a", "#ffffff", 1873, 1911, 12, 1, "bold"),
        (1.18784, "1,18784", "#1a1a1a", "#ffffff", 1873, 1911, 12, 1, "bold"),
        (1.19878, "1,19878", "#aa0000", "#ffffff", 1860.4, 1905, 18, -2.2, "bold")]
for p, lab, fill, tc, a, b, h, off, w in tags:
    d = pd.DataFrame({"p": [p]})
    layers.append(alt.Chart(d).mark_rect(color=fill, height=h, cornerRadius=2, yOffset=off).encode(
        x=alt.value(X(a)), x2=alt.value(X(b)), y=qy("p:Q")))
    layers.append(alt.Chart(d).mark_text(text=lab, font=FONT, fontSize=10.5, fontWeight=w, color=tc, align="center",
                                         baseline="middle", yOffset=off).encode(
        x=alt.value(X((a + b) / 2)), y=qy("p:Q")))

chart = alt.layer(*layers).properties(
    width=PLOT_W, height=PLOT_H,
    padding={"left": 1, "top": 77, "right": 61, "bottom": 22},
    autosize=alt.AutoSizeParams(type="none", contains="content"),
    background="#eeeeee",
).configure_view(stroke=None, fill="#ffffff")

chart.save("out.html", embed_options={"renderer": "svg", "actions": False})
